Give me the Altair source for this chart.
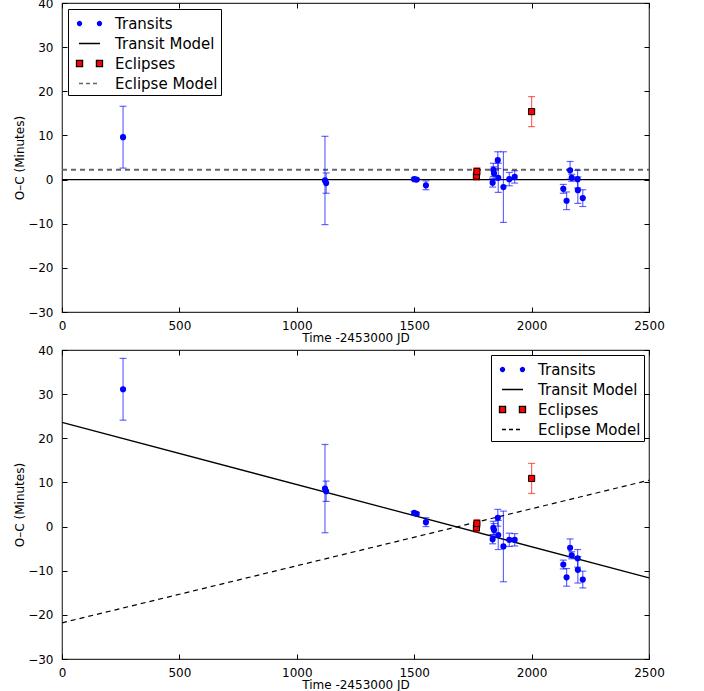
import altair as alt
import pandas as pd

# Transit mid-times (days after JD 2453000), O-C residuals and 1-sigma errors
transit_time = [260, 1120, 1125, 1500, 1510, 1550, 1834, 1837, 1840, 1856, 1858,
                1880, 1905, 1928, 2135, 2149, 2164, 2171, 2196, 2197, 2218]
transit_oc_const = [9.6, -0.2, -0.8, 0.1, 0.0, -1.3, -0.7, 2.2, 1.4, 4.4, 0.4,
                    -1.7, 0.1, 0.6, -2.1, -4.8, 2.1, 0.4, 0.1, -2.4, -4.2]
transit_oc_linear = [31.1, 8.6, 8.0, 3.1, 2.9, 1.0, -2.9, -0.3, -0.8, 2.0, -1.9,
                     -4.5, -3.0, -3.0, -8.6, -11.5, -4.8, -6.5, -7.2, -9.8, -12.0]
transit_err = [7.0, 10.0, 2.3, 0.3, 0.3, 1.0, 1.0, 1.5, 1.5, 1.9, 3.3,
               8.0, 1.5, 1.4, 1.0, 2.0, 2.0, 0.8, 2.0, 3.0, 1.9]

# Secondary eclipse times, O-C residuals and errors
eclipse_time = [1765, 1767, 2000]
eclipse_oc_const = [0.8, 1.8, 15.4]
eclipse_oc_linear = [-0.3, 0.7, 10.9]
eclipse_err = [0.9, 0.9, 3.4]

# Model ephemerides evaluated at the ends of the time range
model_time = [0, 2500]
transit_model_const = [0.0, 0.0]
eclipse_model_const = [2.2, 2.2]
transit_model_linear = [23.6, -11.6]
eclipse_model_linear = [-21.8, 10.5]

x_ticks = [0, 500, 1000, 1500, 2000, 2500]
y_ticks = [-30, -20, -10, 0, 10, 20, 30, 40]

legend_labels = ["Transits", "Transit Model", "Eclipses", "Eclipse Model"]
dots_path = ("M -0.76 0 A 0.19 0.19 0 1 0 -1.14 0 A 0.19 0.19 0 1 0 -0.76 0 Z "
             "M 1.14 0 A 0.19 0.19 0 1 0 0.76 0 A 0.19 0.19 0 1 0 1.14 0 Z")
line_path = "M -1 0 L 1 0"
squares_path = ("M -1.24 -0.29 H -0.66 V 0.29 H -1.24 Z "
                "M 0.66 -0.29 H 1.24 V 0.29 H 0.66 Z")

W, H = 587, 309
x_scale = alt.Scale(domain=[0, 2500], nice=False, zero=False)
y_scale = alt.Scale(domain=[-30, 40], nice=False, zero=False)


def tick_axis(orient, **kw):
    # inward-pointing ticks: shift the axis into the plot by the tick length
    return alt.Axis(orient=orient, offset=-5, tickSize=5, domain=False, grid=False,
                    tickColor="black", tickWidth=1, labelFlush=False, format="d",
                    labelFont="DejaVu Sans", labelFontSize=12, labelColor="black",
                    titleFont="DejaVu Sans", titleFontSize=12, titleFontWeight="normal",
                    titleColor="black", **kw)


def panel(t_oc, e_oc, t_model, e_model, dash_color, dash_width, leg_orient, leg_offset):
    tdf = pd.DataFrame({"t": transit_time, "oc": t_oc, "err": transit_err})
    edf = pd.DataFrame({"t": eclipse_time, "oc": e_oc, "err": eclipse_err})
    mdf = pd.DataFrame({"t": model_time, "transit": t_model, "eclipse": e_model})
    ldf = pd.DataFrame({"label": legend_labels})

    x_main = alt.X("t:Q", scale=x_scale,
                   axis=tick_axis("bottom", values=x_ticks, labelPadding=8,
                                  title="Time -2453000 JD", titlePadding=1))
    y_main = alt.Y("transit:Q", scale=y_scale,
                   axis=tick_axis("left", values=y_ticks, labelPadding=9,
                                  title="O\u2013C (Minutes)", titlePadding=1))

    transit_line = alt.Chart(mdf).mark_line(color="black", strokeWidth=1.3).encode(
        x=x_main, y=y_main)

    eclipse_line = alt.Chart(mdf).mark_line(
        color=dash_color, strokeWidth=dash_width, strokeDash=[5, 4]).encode(
        x=alt.X("t:Q", scale=x_scale,
                axis=tick_axis("top", values=x_ticks, labels=False, title=None)),
        y=alt.Y("eclipse:Q", scale=y_scale,
                axis=tick_axis("right", values=y_ticks, labels=False, title=None)))

    def err_layers(df, color):
        base = alt.Chart(df).transform_calculate(
            lo="datum.oc - datum.err", hi="datum.oc + datum.err")
        bars = base.mark_rule(color=color, opacity=0.6, strokeWidth=1.2).encode(
            x=alt.X("t:Q", scale=x_scale, axis=None),
            y=alt.Y("lo:Q", scale=y_scale, axis=None),
            y2="hi:Q")
        caps = base.transform_fold(["lo", "hi"], as_=["end", "v"]).mark_tick(
            orient="horizontal", color=color, opacity=0.6, size=7, thickness=1.2).encode(
            x=alt.X("t:Q", scale=x_scale, axis=None),
            y=alt.Y("v:Q", scale=y_scale, axis=None))
        return bars + caps

    transit_pts = alt.Chart(tdf).mark_circle(color="blue", size=38, opacity=1).encode(
        x=alt.X("t:Q", scale=x_scale, axis=None),
        y=alt.Y("oc:Q", scale=y_scale, axis=None))

    eclipse_pts = alt.Chart(edf).mark_square(
        color="red", size=38, opacity=1, stroke="black", strokeWidth=1).encode(
        x=alt.X("t:Q", scale=x_scale, axis=None),
        y=alt.Y("oc:Q", scale=y_scale, axis=None))

    leg = alt.Legend(title=None, orient=leg_orient, offset=leg_offset, padding=3,
                     symbolOffset=7, labelOffset=14, labelFontSize=15,
                     labelFont="DejaVu Sans", labelColor="black", labelLimit=300,
                     symbolSize=441, symbolStrokeWidth=1.3, strokeColor="black",
                     fillColor="white", rowPadding=0, cornerRadius=0)
    legend_layer = alt.Chart(ldf).transform_filter("false").mark_point(
        filled=True, opacity=1).encode(
        x=alt.X("t:Q", scale=x_scale, axis=None),
        y=alt.Y("oc:Q", scale=y_scale, axis=None),
        shape=alt.Shape("label:N", legend=leg, scale=alt.Scale(
            domain=legend_labels, range=[dots_path, line_path, squares_path, line_path])),
        fill=alt.Fill("label:N", legend=leg, scale=alt.Scale(
            domain=legend_labels, range=["blue", "transparent", "red", "transparent"])),
        stroke=alt.Stroke("label:N", legend=leg, scale=alt.Scale(
            domain=legend_labels, range=["blue", "black", "black", dash_color])),
        strokeDash=alt.StrokeDash("label:N", legend=leg, scale=alt.Scale(
            domain=legend_labels, range=[[1, 0], [1, 0], [1, 0], [4, 3]])),
    )

    return alt.layer(
        transit_line, eclipse_line,
        err_layers(tdf, "blue"), err_layers(edf, "red"),
        transit_pts, eclipse_pts, legend_layer,
    ).properties(width=W, height=H)


top = panel(transit_oc_const, eclipse_oc_const, transit_model_const,
            eclipse_model_const, "#666666", 2.0, "top-left", 6)
bottom = panel(transit_oc_linear, eclipse_oc_linear, transit_model_linear,
               eclipse_model_linear, "black", 1.2, "top-right", 5)

# fixed placement: the concat layout has no intrinsic height under autosize "none",
# so the padding spans the full page
chart = alt.vconcat(top, bottom, spacing=38, bounds="flush").resolve_scale(
    shape="independent", fill="independent", stroke="independent",
    strokeDash="independent").resolve_legend(
    shape="independent", fill="independent", stroke="independent",
    strokeDash="independent").properties(
    autosize=alt.AutoSizeParams(type="none"),
    padding={"left": 62, "top": 3, "right": 55, "bottom": 688},
    background="white",
).configure_view(stroke="#333333", strokeWidth=1.2)

chart.save("out.html", embed_options={"renderer": "svg", "actions": False})
